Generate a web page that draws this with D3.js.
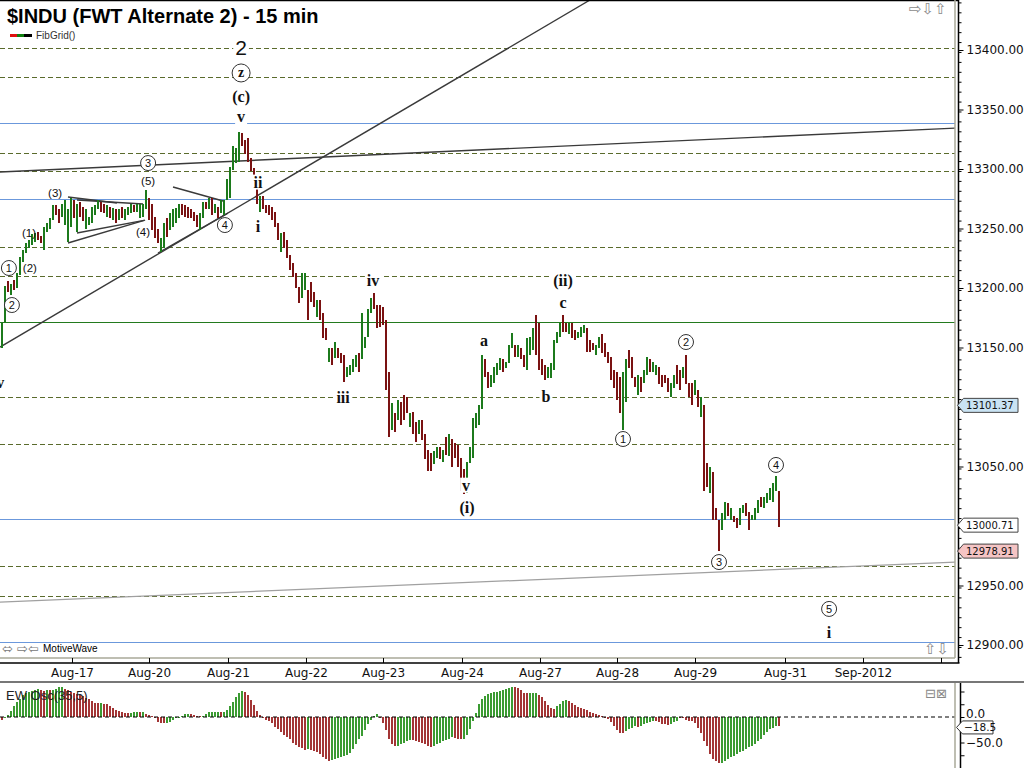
<!DOCTYPE html>
<html><head><meta charset="utf-8">
<script src="https://cdn.jsdelivr.net/npm/d3@7"></script>
<style>body{margin:0;background:#fff;}svg{display:block;}</style>
</head><body><svg id="c" width="1024" height="768"></svg>
<script>
// ---------------- DATA ----------------
const highs = [
13171,13202,13206,13203,13207,13213,13226,13232,13238,13240,
13245,13246,13247,13244,13251,13255,13259,13270,13270,13266,
13271,13274,13266,13276,13274,13271,13272,13268,13266,13260,
13268,13270,13274,13272,13271,13270,13268,13267,13266,13266,
13268,13266,13268,13271,13270,13271,13271,13271,13282,13276,
13271,13260,13250,13242,13255,13259,13263,13266,13267,13271,
13271,13270,13268,13266,13264,13261,13263,13272,13272,13276,
13276,13271,13268,13274,13274,13292,13302,13319,13318,13331,
13330,13324,13326,13309,13301,13285,13277,13277,13270,13270,
13268,13264,13255,13246,13247,13240,13228,13221,13213,13201,
13213,13213,13198,13205,13197,13190,13190,13179,13166,13150,
13150,13155,13150,13145,13144,13134,13135,13140,13144,13145,
13179,13159,13182,13192,13196,13186,13186,13184,13173,13129,
13103,13095,13106,13104,13110,13108,13095,13096,13087,13089,
13089,13077,13064,13061,13063,13066,13066,13064,13075,13077,
13073,13070,13068,13057,13048,13054,13066,13091,13095,13102,
13144,13140,13129,13127,13134,13137,13141,13140,13138,13152,
13162,13152,13152,13150,13144,13158,13159,13166,13177,13171,
13140,13135,13134,13137,13156,13163,13171,13177,13171,13171,
13171,13165,13163,13167,13169,13166,13156,13154,13152,13159,
13161,13154,13146,13142,13131,13129,13125,13129,13140,13148,
13142,13125,13127,13125,13131,13142,13140,13138,13135,13134,
13127,13127,13124,13120,13127,13135,13131,13134,13144,13120,
13120,13123,13114,13108,13102,13053,13050,13045,13015,13005,
13011,13020,13019,13015,13008,13007,13015,13018,13019,13012,
13009,13015,13022,13024,13024,13028,13032,13036,13042,13029];
const lows = [
13150,13171,13197,13194,13198,13200,13211,13222,13229,13234,
13236,13239,13240,13238,13232,13247,13250,13257,13261,13255,
13260,13253,13239,13251,13259,13247,13260,13256,13250,13253,
13255,13261,13266,13264,13263,13260,13259,13257,13255,13257,
13259,13257,13261,13263,13264,13264,13259,13260,13266,13257,
13249,13242,13238,13230,13234,13243,13249,13251,13255,13259,
13261,13260,13259,13259,13256,13251,13249,13259,13266,13266,
13261,13263,13259,13263,13261,13274,13276,13299,13305,13306,
13319,13313,13306,13298,13293,13271,13264,13266,13263,13261,
13257,13251,13240,13230,13234,13225,13215,13209,13200,13187,
13192,13198,13173,13188,13184,13176,13173,13158,13156,13138,
13135,13141,13141,13137,13121,13125,13127,13129,13134,13129,
13140,13150,13159,13179,13182,13166,13167,13169,13114,13075,
13081,13079,13089,13085,13089,13095,13083,13077,13071,13077,
13072,13056,13046,13046,13052,13057,13056,13054,13060,13059,
13050,13057,13050,13029,13027,13028,13053,13057,13082,13085,
13098,13125,13116,13117,13120,13127,13131,13129,13133,13137,
13150,13142,13142,13140,13134,13131,13144,13148,13144,13131,
13127,13123,13124,13124,13131,13154,13159,13163,13163,13161,
13158,13156,13158,13159,13162,13146,13146,13148,13144,13150,
13145,13142,13137,13123,13116,13106,13095,13081,13104,13133,
13124,13117,13110,13113,13120,13127,13129,13129,13127,13119,
13117,13120,13113,13108,13116,13119,13114,13124,13119,13108,
13102,13110,13100,13092,13029,13033,13028,13005,13005,12979,
12997,13005,13008,13005,13003,12998,13001,13011,13008,12997,
13005,13005,13011,13016,13015,13019,13022,13020,13029,12999];
const barDir = [
"GGRGRGGGGG","GGRRGGGGRR","GGGGRGRRGG","GGGRRGRGRG","RGGGRGGGGR",
"RRRGGRGGGG","RRRRRRGGRG","RGRGGGGGGG","RRRRRRGRRR","RRRGRRRRRR",
"GGRRRGRRRG","RGRRRGGGGR","GGGGRRRRRR","GRGRRRGRRG","RRRRGGRGRG",
"RRRRRGGGGG","GRRGGGGRGG","GRGRRGGGRR","RRGGGGGRRG","RRGGGRRRGG",
"RRRRRRRGGR","RRGRGGRGGR","RRRGGRRGRR","RGRGRRGRRR","GGRGRRGGRR",
"GGGRGGGGGR"].join("");

const oscValues = [
-6.4,-1.9,4.5,12.2,21.8,28.8,35.3,42.9,46.2,49.4,
51.3,52.6,54.5,52.6,51.9,53.2,52.0,53.8,55.8,59.0,
59.5,55.8,52.6,49.4,47.4,44.9,42.9,41.0,36.5,34.6,
32.1,28.2,26.9,27.2,25.6,25.0,21.8,17.9,14.1,10.9,
9.0,7.7,7.1,7.7,9.0,9.3,9.0,9.3,6.4,
4.5,2.6,-1.9,-10.3,-11.5,-11.8,-11.5,-9.6,-6.4,-1.9,
0.3,2.6,6.4,6.6,6.4,4.5,2.6,2.4,2.6,6.4,
9.0,10.3,10.5,10.6,9.0,10.3,14.1,21.8,29.5,39.7,
46.2,50.6,48.7,42.9,33.3,23.7,12.2,4.5,-1.9,-5.1,
-8.3,-11.5,-19.2,-24.4,-29.5,-35.3,-39.1,-43.6,-50.0,-54.5,
-58.3,-61.5,-64.1,-62.8,-64.1,-66.0,-67.9,-72.4,-78.8,-83.3,
-85.3,-85.0,-83.3,-80.8,-78.8,-76.9,-74.4,-70.5,-62.8,-53.2,
-43.6,-37.2,-25.6,-14.7,-6.4,2.6,6.4,-2.0,-11.5,-25.6,
-43.6,-53.2,-56.4,-56.0,-53.2,-50.0,-46.8,-45.5,-45.8,
-46.8,-48.1,-50.0,-53.2,-56.4,-58.3,-56.4,-53.2,-50.0,-46.8,
-44.9,-42.3,-38.5,-40.4,-43.6,-43.8,-42.3,-35.9,-24.4,-8.3,
7.7,25.6,34.6,41.0,44.9,47.4,48.7,49.4,50.6,52.6,
55.1,56.4,58.5,58.0,56.5,52.6,47.4,46.2,46.5,46.8,
47.0,42.9,39.7,32.1,23.7,16.7,16.2,21.8,25.6,30.8,
33.3,32.1,28.2,24.4,20.5,17.9,15.4,12.8,10.3,7.7,
6.4,3.8,2.6,-0.5,-3.8,-10.3,-17.9,-25.6,-30.8,-32.1,
-27.6,-23.1,-21.2,-17.9,-19.0,-17.9,-14.7,-11.5,-10.3,-8.3,
-8.5,-10.3,-13.5,-14.7,-15.0,-12.8,-10.3,-8.3,-1.9,-1.9,
-5.1,-8.3,-8.5,-11.5,-21.2,-30.8,-46.8,-56.4,-72.4,-82.1,
-87.2,-89.7,-90.4,-85.3,-82.1,-78.8,-75.6,-72.4,-69.2,-66.0,
-62.8,-59.6,-56.4,-53.2,-46.8,-42.3,-35.9,-29.5,-24.4,-21.2,
-17.9,-18.5];
const oscRuns = [["R",1],["G",12],["R",2],["G",1],["R",1],["G",4],["R",12],["G",1],["R",9],["G",3],
["R",1],["G",1],["R",7],["G",8],["R",4],["G",6],["R",1],["G",7],["R",21],["G",1],["R",7],["G",16],
["R",6],["G",5],["R",7],["G",7],["R",3],["G",17],["R",5],["G",3],["R",6],["G",4],["R",19],["G",4],
["R",1],["G",5],["R",5],["G",3],["R",14],["G",19],["R",1]];

const tickIdx = [23.33,49,75.33,101.33,127,153.33,179.33,205,231,261,287,313];
const tickLabels = ["Aug-17","Aug-20","Aug-21","Aug-22","Aug-23","Aug-24","Aug-27","Aug-28","Aug-29","Aug-31","Sep-2012",""];
const priceTicks = [12900,12950,13000,13050,13100,13150,13200,13250,13300,13350,13400];
const oscTicks = [50,25,0,-25,-50,-75];
const oscLabels = [0,-50];

const fibLevels = [13401.7,13377.3,13313.4,13298.3,13234.5,13210.1,13108.4,13068.9,12966.4,12941.2];
const blueLevels = [13338.7,13274.8,13005.9,12902.5];
const greenLevels = [13171.4];

const trendLines = [
 {i1:-0.67,p1:13150.4,i2:196,p2:13442,k:"dark"},
 {i1:52,p1:13229.4,i2:75.3,p2:13263,k:"dark"},
 {i1:-0.67,p1:13297.5,i2:318,p2:13334.4,k:"dark"},
 {i1:-0.67,p1:12936.1,i2:318,p2:12969.7,k:"gray"},
 {i1:22,p1:13276.5,i2:38.3,p2:13271.4,k:"dark"},
 {i1:25,p1:13273.9,i2:47,p2:13270.6,k:"dark"},
 {i1:22,p1:13237.8,i2:47.7,p2:13257.1,k:"dark"},
 {i1:25,p1:13246.2,i2:47.3,p2:13256.8,k:"dark"},
 {i1:57,p1:13284.9,i2:73.7,p2:13273.1,k:"dark"}
];

const waveLabels = [
 {t:"2",i:79.7,p:13401.7,k:"big"},
 {t:"z",i:79.7,p:13380.7,k:"circz"},
 {t:"(c)",i:79.7,p:13361.3,k:"rom"},
 {t:"v",i:79.7,p:13343.7,k:"rom"},
 {t:"ii",i:85.3,p:13289,k:"rom"},
 {t:"i",i:85.3,p:13252,k:"rom"},
 {t:"iii",i:113.7,p:13107.6,k:"rom"},
 {t:"iv",i:123.7,p:13205.9,k:"rom"},
 {t:"v",i:154.7,p:13034.3,k:"rom"},
 {t:"(i)",i:155,p:13015.8,k:"rom"},
 {t:"a",i:160.7,p:13155.5,k:"rom"},
 {t:"b",i:181.3,p:13109.2,k:"rom"},
 {t:"c",i:187,p:13188.2,k:"rom"},
 {t:"(ii)",i:187,p:13206.7,k:"rom"},
 {t:"v",i:-0.6,p:13120.2,k:"rom"},
 {t:"i",i:275.7,p:12910.9,k:"rom"},
 {t:"1",i:2.3,p:13216.8,k:"circ"},
 {t:"2",i:3.3,p:13185.7,k:"circ"},
 {t:"3",i:48.7,p:13305,k:"circ"},
 {t:"4",i:74.3,p:13252.9,k:"circ"},
 {t:"1",i:207,p:13073.1,k:"circ"},
 {t:"2",i:228,p:13154.6,k:"circ"},
 {t:"3",i:239,p:12969.7,k:"circ"},
 {t:"4",i:258,p:13051.3,k:"circ"},
 {t:"5",i:275.7,p:12930.3,k:"circ"},
 {t:"(1)",i:9,p:13246.2,k:"par"},
 {t:"(2)",i:9.3,p:13216.8,k:"par"},
 {t:"(3)",i:17.7,p:13279.8,k:"par"},
 {t:"(4)",i:47,p:13247.1,k:"par"},
 {t:"(5)",i:48.7,p:13289.9,k:"par"}
];
const priceTags = [{v:13101.37,k:"blue"},{v:13000.71,k:"white"},{v:12978.91,k:"pink"}];
const oscTag = -18.5;

// ---------------- DRAW ----------------
const svg = d3.select("#c");
const SANS = "'Liberation Sans', Arial, sans-serif";
const DJ = "'DejaVu Sans', sans-serif";
const SERIF = "'Liberation Serif', 'DejaVu Serif', serif";
const plotR = 955, plotB = 658, axX = 958.5;

const x = d3.scaleLinear().domain([0, 259]).range([2, 779]);
const y = d3.scaleLinear().domain([12900, 13400]).range([645, 50]);
const yo = d3.scaleLinear().domain([0, -50]).range([717, 742.5]);

svg.append("rect").attr("width",1024).attr("height",768).attr("fill","#fff");
const defs = svg.append("defs");
defs.append("clipPath").attr("id","pc").append("rect").attr("x",0).attr("y",0).attr("width",plotR).attr("height",plotB);
defs.append("clipPath").attr("id","oc").append("rect").attr("x",0).attr("y",683).attr("width",plotR).attr("height",85);

const gp = svg.append("g").attr("clip-path","url(#pc)");

// horizontal levels
gp.selectAll(".fib").data(fibLevels).join("line")
  .attr("x1",0).attr("x2",plotR).attr("y1",d=>Math.round(y(d))+0.5).attr("y2",d=>Math.round(y(d))+0.5)
  .attr("stroke","#5a6b2c").attr("stroke-width",1).attr("stroke-dasharray","5,3");
gp.selectAll(".blu").data(blueLevels).join("line")
  .attr("x1",0).attr("x2",plotR).attr("y1",d=>Math.round(y(d))+0.5).attr("y2",d=>Math.round(y(d))+0.5)
  .attr("stroke","#6b98dc").attr("stroke-width",1);
gp.selectAll(".grn").data(greenLevels).join("line")
  .attr("x1",0).attr("x2",plotR).attr("y1",d=>Math.round(y(d))+0.5).attr("y2",d=>Math.round(y(d))+0.5)
  .attr("stroke","#237a1e").attr("stroke-width",1.2);

// trend lines
gp.selectAll(".tl").data(trendLines).join("line")
  .attr("x1",d=>x(d.i1)).attr("y1",d=>y(d.p1)).attr("x2",d=>x(d.i2)).attr("y2",d=>y(d.p2))
  .attr("stroke",d=>d.k==="gray"?"#a0a0a0":"#3a3a3a").attr("stroke-width",d=>d.k==="gray"?1.2:1.4);

// price bars
gp.selectAll(".bar").data(highs).join("rect")
  .attr("x",(d,i)=>Math.round(x(i))-1).attr("width",2)
  .attr("y",d=>y(d)).attr("height",(d,i)=>Math.max(1,y(lows[i])-y(d)))
  .attr("fill",(d,i)=>barDir[i]==="G"?"#1c7a1c":"#7a1212")
  .attr("shape-rendering","crispEdges");

// wave labels
const gl = svg.append("g").attr("clip-path","url(#pc)");
waveLabels.forEach(d=>{
  const cx = x(d.i), cy = y(d.p);
  if (d.k==="circ" || d.k==="circz") {
    gl.append("circle").attr("cx",cx).attr("cy",cy).attr("r",d.k==="circz"?9:7.5)
      .attr("fill","#fff").attr("stroke","#333").attr("stroke-width",1);
    gl.append("text").attr("x",cx).attr("y",cy).attr("text-anchor","middle").attr("dominant-baseline","central")
      .attr("font-family",d.k==="circz"?SERIF:SANS).attr("font-weight",d.k==="circz"?"bold":"normal")
      .attr("font-size",d.k==="circz"?14:11).attr("fill","#111").text(d.t);
  } else {
    const t = gl.append("text").attr("x",cx).attr("y",cy).attr("text-anchor","middle").attr("dominant-baseline","central")
      .attr("fill","#111").text(d.t);
    if (d.k==="rom") t.attr("font-family",SERIF).attr("font-weight","bold").attr("font-size",16);
    if (d.k==="par") t.attr("font-family",SANS).attr("font-size",11.5);
    if (d.k==="big") t.attr("font-family",SANS).attr("font-size",21);
    const bb = t.node().getBBox();
    if (d.k!=="par") gl.insert("rect", () => t.node()).attr("x",bb.x-2).attr("y",bb.y+1).attr("width",bb.width+4).attr("height",bb.height-2).attr("fill","#fff");
  }
});

// title & legend
svg.append("line").attr("x1",0).attr("x2",axX).attr("y1",0.5).attr("y2",0.5).attr("stroke","#000").attr("stroke-width",1.5);
svg.append("text").attr("x",7).attr("y",23).attr("font-family",SANS).attr("font-weight","bold").attr("font-size",20).attr("fill","#000").text("$INDU (FWT Alternate 2) - 15 min");
[["#e01010",10,17],["#108010",17,24],["#000",24,32]].forEach(s=>{
  svg.append("line").attr("x1",s[1]).attr("x2",s[2]).attr("y1",35.5).attr("y2",35.5).attr("stroke",s[0]).attr("stroke-width",3);
});
svg.append("text").attr("x",36).attr("y",39).attr("font-family",SANS).attr("font-size",10).attr("fill","#333").text("FibGrid()");
svg.append("text").attr("x",909).attr("y",14).attr("font-family",DJ).attr("font-size",15).attr("fill","#8a8a8a").text("⇨⇩⇧");
svg.append("text").attr("x",2).attr("y",653).attr("font-family",DJ).attr("font-size",13).attr("fill","#777").text("⬄ ⇨⇦");
svg.append("text").attr("x",43).attr("y",652).attr("font-family",SANS).attr("font-size",10).attr("fill","#000").text("MotiveWave");
svg.append("text").attr("x",924).attr("y",654).attr("font-family",DJ).attr("font-size",15).attr("fill","#8a8a8a").text("⇧⇩");

// borders
svg.append("line").attr("x1",0).attr("x2",plotR).attr("y1",plotB).attr("y2",plotB).attr("stroke","#a8a898").attr("stroke-width",1.5);
svg.append("line").attr("x1",plotR).attr("x2",plotR).attr("y1",0).attr("y2",plotB).attr("stroke","#a8a898").attr("stroke-width",1.5);
svg.append("line").attr("x1",0).attr("x2",axX+1).attr("y1",663).attr("y2",663).attr("stroke","#000").attr("stroke-width",1.5);
svg.append("line").attr("x1",axX).attr("x2",axX).attr("y1",0).attr("y2",663).attr("stroke","#000").attr("stroke-width",1.5);

// price axis (labels hidden where a price tag covers them, as in the reference)
const covered = v => priceTags.some(t => Math.abs(y(t.v) - y(v)) < 10);
const minor = d3.range(12890, 13445, 50/6);
const gMinor = svg.append("g").attr("transform",`translate(${axX},0)`)
  .call(d3.axisRight(y).tickValues(minor).tickSize(3).tickFormat(""));
gMinor.select(".domain").remove();
const gY = svg.append("g").attr("transform",`translate(${axX},0)`)
  .call(d3.axisRight(y).tickValues(priceTicks).tickSize(5).tickPadding(3).tickFormat(v => covered(v) ? "" : d3.format(".2f")(v)));
gY.select(".domain").remove();
gY.selectAll("text").attr("font-family",DJ).attr("font-size",12).attr("fill","#111");

// price tags
priceTags.forEach(t=>{
  const cy = y(t.v);
  const fill = t.k==="blue"?"#c9e3f3":t.k==="pink"?"#f5c4c4":"#fff";
  svg.append("path").attr("d",`M${axX-1},${cy} L${axX+5},${cy-7} L1018,${cy-7} L1018,${cy+7} L${axX+5},${cy+7} Z`)
    .attr("fill",fill).attr("stroke","#444").attr("stroke-width",1);
  svg.append("text").attr("x",966).attr("y",cy).attr("dominant-baseline","central").attr("font-family",DJ).attr("font-size",10).attr("fill","#111").text(t.v.toFixed(2));
});

// x axis
const gX = svg.append("g").attr("transform","translate(0,663)")
  .call(d3.axisBottom(x).tickValues(tickIdx).tickSize(-5).tickPadding(5).tickFormat((d,i)=>tickLabels[i]));
gX.select(".domain").remove();
gX.selectAll("line").attr("stroke","#000");
gX.selectAll("text").attr("font-family",DJ).attr("font-size",12).attr("fill","#111");

// ---------------- OSC PANEL ----------------
svg.append("line").attr("x1",0).attr("x2",1024).attr("y1",682).attr("y2",682).attr("stroke","#777").attr("stroke-width",2);
const go = svg.append("g").attr("clip-path","url(#oc)");
const oscDir = oscRuns.map(r=>r[0].repeat(r[1])).join("");
go.selectAll(".ob").data(oscValues).join("rect")
  .attr("x",(d,i)=>Math.round(x(i))-1).attr("width",2)
  .attr("y",d=>Math.min(yo(d),yo(0))).attr("height",d=>Math.max(1,Math.abs(yo(d)-yo(0))))
  .attr("fill",(d,i)=>oscDir[i]==="G"?"#3b9b32":"#a33535")
  .attr("shape-rendering","crispEdges");
svg.append("line").attr("x1",0).attr("x2",plotR).attr("y1",yo(0)).attr("y2",yo(0)).attr("stroke","#000").attr("stroke-width",1.2).attr("stroke-dasharray","4,3");
svg.append("text").attr("x",6).attr("y",700).attr("font-family",SANS).attr("font-size",13).attr("fill","#222").text("EW Osc(35,5)");
svg.append("line").attr("x1",plotR).attr("x2",plotR).attr("y1",683).attr("y2",768).attr("stroke","#a8a898").attr("stroke-width",1.5);
svg.append("line").attr("x1",axX+2).attr("x2",axX+2).attr("y1",683).attr("y2",768).attr("stroke","#000").attr("stroke-width",1.5);
const gO = svg.append("g").attr("transform",`translate(${axX+2},0)`)
  .call(d3.axisRight(yo).tickValues(oscTicks).tickSize(4).tickFormat(""));
gO.select(".domain").remove();
oscLabels.forEach(v=>{
  svg.append("text").attr("x",966).attr("y",yo(v)-(v===0?3:0)).attr("dominant-baseline","central").attr("font-family",DJ).attr("font-size",12).attr("fill","#111").text(d3.format(".1f")(v));
});
{
  const cy = yo(oscTag)+1;
  svg.append("path").attr("d",`M${axX-2},${cy} L${axX+4},${cy-6.5} L993,${cy-6.5} L993,${cy+6.5} L${axX+4},${cy+6.5} Z`)
    .attr("fill","#fff").attr("stroke","#333").attr("stroke-width",1);
  svg.append("text").attr("x",964).attr("y",cy).attr("dominant-baseline","central").attr("font-family",DJ).attr("font-size",10.5).attr("fill","#111").text(d3.format(".1f")(oscTag));
}
svg.append("text").attr("x",925).attr("y",698).attr("font-family",DJ).attr("font-size",13).attr("fill","#888").text("⊟⊠");
</script></body></html>
